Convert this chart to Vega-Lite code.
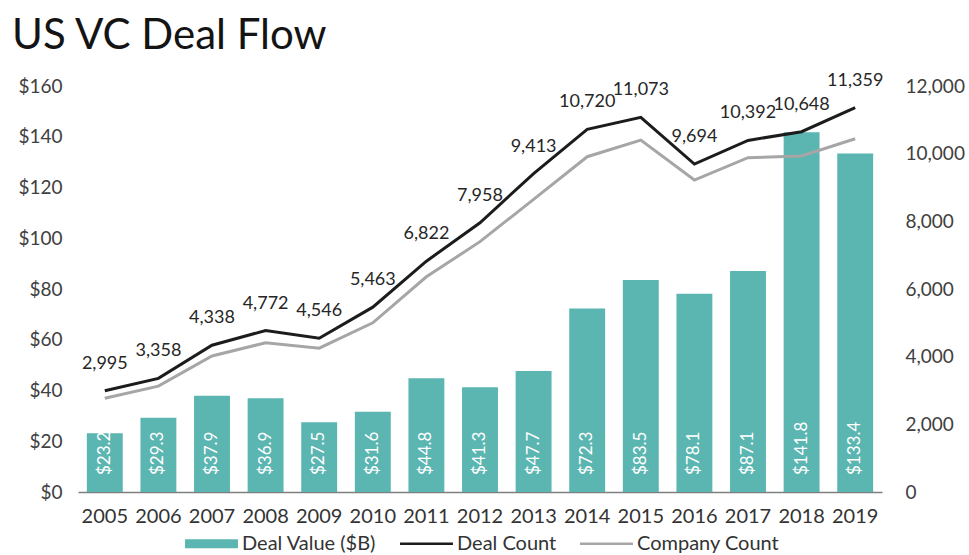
{
  "$schema": "https://vega.github.io/schema/vega-lite/v6.json",
  "width": 804,
  "height": 406,
  "autosize": "none",
  "padding": {"left": 78, "top": 86, "right": 87, "bottom": 63},
  "background": "white",
  "config": {
    "font": "Lato",
    "view": {"stroke": null},
    "axis": {"grid": false, "ticks": false, "labelColor": "#404040", "labelFont": "Lato", "title": null}
  },
  "title": {
    "text": "US VC Deal Flow",
    "anchor": "start",
    "frame": "group",
    "fontSize": 42,
    "fontWeight": "normal",
    "color": "#141414",
    "font": "Lato",
    "dx": -66,
    "offset": 14
  },
  "data": {
    "values": [
      {"year": "2005", "value": 23.2, "deals": 2995, "companies": 2770},
      {"year": "2006", "value": 29.3, "deals": 3358, "companies": 3130},
      {"year": "2007", "value": 37.9, "deals": 4338, "companies": 4020},
      {"year": "2008", "value": 36.9, "deals": 4772, "companies": 4410},
      {"year": "2009", "value": 27.5, "deals": 4546, "companies": 4250},
      {"year": "2010", "value": 31.6, "deals": 5463, "companies": 5000},
      {"year": "2011", "value": 44.8, "deals": 6822, "companies": 6360},
      {"year": "2012", "value": 41.3, "deals": 7958, "companies": 7400},
      {"year": "2013", "value": 47.7, "deals": 9413, "companies": 8650},
      {"year": "2014", "value": 72.3, "deals": 10720, "companies": 9910},
      {"year": "2015", "value": 83.5, "deals": 11073, "companies": 10400},
      {"year": "2016", "value": 78.1, "deals": 9694, "companies": 9220},
      {"year": "2017", "value": 87.1, "deals": 10392, "companies": 9880},
      {"year": "2018", "value": 141.8, "deals": 10648, "companies": 9930},
      {"year": "2019", "value": 133.4, "deals": 11359, "companies": 10440}
    ]
  },
  "layer": [
    {
      "layer": [
        {
          "mark": {"type": "bar"},
          "encoding": {
            "x": {
              "field": "year",
              "type": "ordinal",
              "scale": {"paddingInner": 0.33, "paddingOuter": 0.165},
              "axis": {
                "labelAngle": 0,
                "labelFontSize": 20,
                "labelPadding": 14,
                "domainColor": "#7f7f7f",
                "domainWidth": 1.5,
                "labelColor": "#333333"
              }
            },
            "y": {
              "field": "value",
              "type": "quantitative",
              "scale": {"domain": [0, 160]},
              "axis": {
                "values": [0, 20, 40, 60, 80, 100, 120, 140, 160],
                "format": "$d",
                "labelFontSize": 19,
                "labelPadding": 16,
                "domain": false
              }
            },
            "color": {
              "datum": "Deal Value ($B)",
              "type": "nominal",
              "scale": {
                "domain": ["Deal Value ($B)", "Deal Count", "Company Count"],
                "range": ["#5BB5B1", "#1c1c1c", "#a6a6a6"]
              },
              "legend": {
                "orient": "none",
                "legendX": 107,
                "legendY": 431,
                "direction": "horizontal",
                "title": null,
                "labelFontSize": 20,
                "labelColor": "#333333",
                "symbolSize": 2800,
                "symbolStrokeWidth": 0,
                "labelOffset": 4,
                "columnPadding": 23,
                "padding": 0,
                "encode": {
                  "symbols": {
                    "update": {
                      "shape": {"signal": "datum.value === 'Deal Value ($B)' ? 'M-1,-0.17H1V0.17H-1Z' : 'M-1,-0.05H1V0.05H-1Z'"}
                    }
                  }
                }
              }
            }
          }
        },
        {
          "mark": {"type": "text", "angle": -90, "align": "left", "baseline": "middle", "color": "white", "fontSize": 17, "dx": 17},
          "encoding": {
            "x": {"field": "year", "type": "ordinal"},
            "y": {"datum": 0, "type": "quantitative"},
            "text": {"field": "value", "type": "quantitative", "format": "$.1f"}
          }
        }
      ]
    },
    {
      "layer": [
        {
          "mark": {"type": "line", "color": "#a6a6a6", "strokeWidth": 3},
          "encoding": {
            "x": {"field": "year", "type": "ordinal"},
            "y": {
              "field": "companies",
              "type": "quantitative",
              "scale": {"domain": [0, 12000]},
              "axis": {
                "orient": "right",
                "values": [0, 2000, 4000, 6000, 8000, 10000, 12000],
                "format": ",d",
                "labelFontSize": 19,
                "labelPadding": 23,
                "domain": false
              }
            }
          }
        },
        {
          "mark": {"type": "line", "color": "#1c1c1c", "strokeWidth": 3},
          "encoding": {
            "x": {"field": "year", "type": "ordinal"},
            "y": {"field": "deals", "type": "quantitative"}
          }
        },
        {
          "mark": {"type": "text", "dy": -22, "baseline": "alphabetic", "fontSize": 18, "color": "#262626"},
          "encoding": {
            "x": {"field": "year", "type": "ordinal"},
            "y": {"field": "deals", "type": "quantitative"},
            "text": {"field": "deals", "type": "quantitative", "format": ",d"}
          }
        }
      ]
    }
  ],
  "resolve": {"scale": {"y": "independent"}}
}
